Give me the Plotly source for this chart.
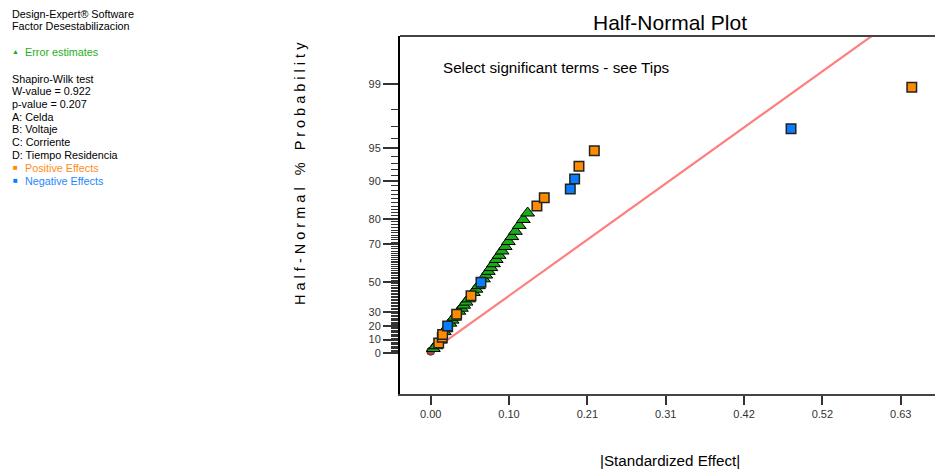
import plotly.graph_objects as go
from statistics import NormalDist

# ---------------- data ----------------
# |Standardized Effect| and half-normal % probability of each point
error_x = [0.0036, 0.0071, 0.0130, 0.0182, 0.0204, 0.0257, 0.0287, 0.0317,
           0.0377, 0.0410, 0.0441, 0.0473, 0.0506, 0.0571, 0.0605, 0.0638,
           0.0705, 0.0736, 0.0770, 0.0805, 0.0840, 0.0876, 0.0914, 0.0954,
           0.0996, 0.1038, 0.1084, 0.1132, 0.1183, 0.1238, 0.1296]
error_pct = [3.2, 5.3, 9.6, 16.0, 18.1, 22.3, 24.5, 26.6,
             30.9, 33.0, 35.1, 37.2, 39.4, 43.6, 45.7, 47.9,
             52.1, 54.3, 56.4, 58.5, 60.6, 62.8, 64.9, 67.0,
             69.1, 71.3, 73.4, 75.5, 77.7, 79.8, 81.9]

pos_x = [0.0107, 0.0155, 0.0160, 0.0347, 0.0539, 0.1420, 0.1518, 0.1982, 0.2187, 0.6430]
pos_pct = [7.4, 11.7, 13.8, 28.7, 41.5, 84.0, 86.2, 92.6, 94.7, 98.9]

neg_x = [0.0227, 0.0672, 0.1866, 0.1924, 0.4816]
neg_pct = [20.2, 50.0, 88.3, 90.4, 96.8]

other_x = [0.0]
other_pct = [1.1]

line_x = [0.019, 0.595]
line_pct = [8.4, 99.78]

x_tick_vals = [0.0, 0.1047, 0.2094, 0.3141, 0.4188, 0.5235, 0.6282]
x_tick_text = ["0.00", "0.10", "0.21", "0.31", "0.42", "0.52", "0.63"]
y_tick_pct = [0, 10, 20, 30, 50, 70, 80, 90, 95, 99]
y_minor_pct = [p for p in range(1, 99) if p not in y_tick_pct]

legend_lines = [
    ("Design-Expert® Software", 14, "#000000"),
    ("Factor Desestabilizacion", 26, "#000000"),
    ("Shapiro-Wilk test", 79, "#000000"),
    ("W-value = 0.922", 90.5, "#000000"),
    ("p-value = 0.207", 103.5, "#000000"),
    ("A: Celda", 116.5, "#000000"),
    ("B: Voltaje", 129, "#000000"),
    ("C: Corriente", 141.5, "#000000"),
    ("D: Tiempo Residencia", 154.5, "#000000"),
]

# ---------------- helpers ----------------
def hn(pct):
    return NormalDist().inv_cdf(0.5 + pct / 200.0)

W, H = 935, 470
L, R, T, B = 400, 0, 36, 76
PW, PH = W - L - R, H - T - B

def px(x):
    return (x - L) / PW

def py(y):
    return (H - B - y) / PH

FONT = "Liberation Sans, Arial, sans-serif"
GREEN = "#1AAA1A"
ORANGE = "#FF8C00"
BLUE = "#0A7CFF"
LEG = 10.8

fig = go.Figure()

fig.add_trace(go.Scatter(
    x=line_x, y=[hn(p) for p in line_pct], mode="lines",
    line=dict(color="#FF7F7F", width=2.2), hoverinfo="skip", showlegend=False))

fig.add_trace(go.Scatter(
    x=other_x, y=[hn(p) for p in other_pct], mode="markers",
    marker=dict(symbol="circle", size=8, color="#A04848",
                line=dict(color="#603030", width=1)), showlegend=False))

fig.add_trace(go.Scatter(
    x=error_x, y=[hn(p) for p in error_pct], mode="markers",
    marker=dict(symbol="triangle-up", size=12, color=GREEN,
                line=dict(color="#000000", width=1)), showlegend=False))

fig.add_trace(go.Scatter(
    x=pos_x, y=[hn(p) for p in pos_pct], mode="markers",
    marker=dict(symbol="square", size=9.5, color=ORANGE,
                line=dict(color="#222222", width=1.5)), showlegend=False))

fig.add_trace(go.Scatter(
    x=neg_x, y=[hn(p) for p in neg_pct], mode="markers",
    marker=dict(symbol="square", size=9.5, color=BLUE,
                line=dict(color="#222222", width=1.5)), showlegend=False))

ann = []
for txt, y, col in legend_lines:
    ann.append(dict(text=txt, x=px(10), y=py(y), xref="paper", yref="paper",
                    xanchor="left", yanchor="middle", showarrow=False,
                    font=dict(family=FONT, size=LEG, color=col)))
ytitle = "H a l f - N o r m a l   %   P r o b a b i l i t y"
ann += [
    dict(text="▲", x=px(15), y=py(52), xref="paper", yref="paper", xanchor="center",
         yanchor="middle", showarrow=False, font=dict(family=FONT, size=7, color=GREEN)),
    dict(text="Error estimates", x=px(23), y=py(52), xref="paper", yref="paper",
         xanchor="left", yanchor="middle", showarrow=False,
         font=dict(family=FONT, size=LEG, color="#22B022")),
    dict(text="■", x=px(15), y=py(167.5), xref="paper", yref="paper", xanchor="center",
         yanchor="middle", showarrow=False, font=dict(family=FONT, size=8, color=ORANGE)),
    dict(text="Positive Effects", x=px(23), y=py(167.5), xref="paper", yref="paper",
         xanchor="left", yanchor="middle", showarrow=False,
         font=dict(family=FONT, size=LEG, color="#FF8C1A")),
    dict(text="■", x=px(15), y=py(180.5), xref="paper", yref="paper", xanchor="center",
         yanchor="middle", showarrow=False, font=dict(family=FONT, size=8, color=BLUE)),
    dict(text="Negative Effects", x=px(23), y=py(180.5), xref="paper", yref="paper",
         xanchor="left", yanchor="middle", showarrow=False,
         font=dict(family=FONT, size=LEG, color="#1E88FF")),
    dict(text="Half-Normal Plot", x=px(670), y=py(22), xref="paper", yref="paper",
         xanchor="center", yanchor="middle", showarrow=False,
         font=dict(family=FONT, size=21, color="#000000")),
    dict(text="Select significant terms - see Tips", x=px(441), y=py(67), xref="paper",
         yref="paper", xanchor="left", yanchor="middle", showarrow=False,
         font=dict(family=FONT, size=15.2, color="#000000")),
    dict(text="|Standardized Effect|", x=px(670), y=py(461), xref="paper", yref="paper",
         xanchor="center", yanchor="middle", showarrow=False,
         font=dict(family=FONT, size=15.2, color="#000000")),
    dict(text=ytitle, x=px(300), y=py(174), xref="paper", yref="paper",
         xanchor="center", yanchor="middle", textangle=-90,
         showarrow=False, font=dict(family=FONT, size=14.5, color="#000000")),
]

shapes = [
    dict(type="line", xref="paper", yref="paper", x0=0, x1=1, y0=1, y1=1,
         line=dict(color="#444444", width=2), layer="above"),
]

fig.update_layout(
    width=W, height=H, margin=dict(l=L, r=R, t=T, b=B, pad=0),
    paper_bgcolor="white", plot_bgcolor="white", showlegend=False,
    font=dict(family=FONT, size=11, color="#333333"),
    annotations=ann, shapes=shapes,
    xaxis=dict(range=[-0.041, 0.674], tickmode="array", tickvals=x_tick_vals,
               ticktext=x_tick_text, ticks="outside", ticklen=9, tickwidth=1.5,
               tickcolor="#333333", showline=True, linecolor="#444444", linewidth=2,
               mirror=False, showgrid=False, zeroline=False,
               tickfont=dict(family=FONT, size=11, color="#333333")),
    yaxis=dict(range=[-0.3956, 3.0335], tickmode="array",
               tickvals=[hn(p) for p in y_tick_pct], ticktext=[str(p) for p in y_tick_pct],
               ticks="outside", ticklen=15, tickwidth=1.5, tickcolor="#333333",
               showline=True, linecolor="#000000", linewidth=2, mirror=False,
               showgrid=False, zeroline=False,
               tickfont=dict(family=FONT, size=11, color="#333333"),
               minor=dict(tickmode="array", tickvals=[hn(p) for p in y_minor_pct],
                          ticks="outside", ticklen=7, tickwidth=1, tickcolor="#333333",
                          showgrid=False)),
)

fig.write_html("out.html")
